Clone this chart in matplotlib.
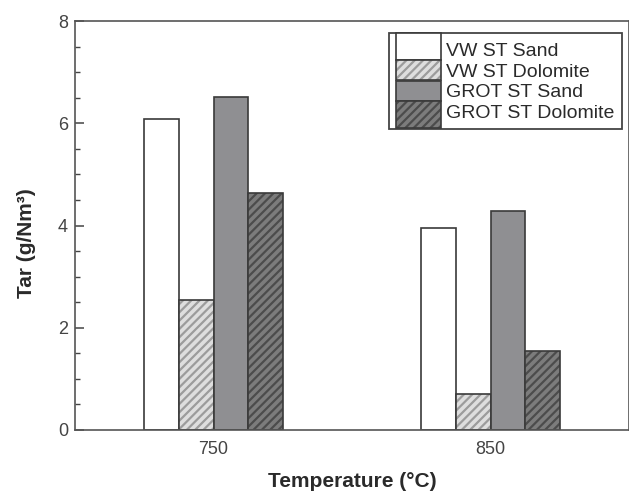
import numpy as np
import matplotlib
matplotlib.use("Agg")
import matplotlib.pyplot as plt
import matplotlib.patches as mpatches
from matplotlib.legend_handler import HandlerPatch, HandlerTuple
from matplotlib.ticker import MultipleLocator

# values (tar in g/Nm3)
temps = ["750", "850"]
labels = ["VW ST Sand", "VW ST Dolomite", "GROT ST Sand", "GROT ST Dolomite"]
vw_sand = [6.08, 3.96]
vw_dolomite = [2.55, 0.70]
grot_sand = [6.52, 4.28]
grot_dolomite = [4.63, 1.55]

plt.rcParams["font.family"] = ["Liberation Sans", "DejaVu Sans"]
plt.rcParams["hatch.linewidth"] = 1.6

edge = "#3a3a3a"
# face colour, hatch, hatch colour
styles = [
	("white", None, None),
	("#dedede", "////", "#9c9c9c"),
	("#8f8f92", None, None),
	("#7c7c7c", "////", "#4c4c4c"),
]

stretch = {}


def tall_patch(legend, orig_handle, xdescent, ydescent, width, height, fontsize):
	# let the first / last legend swatch run into the border pad, like the original
	top, bottom = stretch.get(id(orig_handle), (0, 0))
	return mpatches.Rectangle((-xdescent, -ydescent - bottom), width, height + top + bottom)


def draw_chart():
	fig = plt.figure(figsize=(6.29, 4.92), dpi=100)
	ax = fig.add_axes([75 / 629, 62 / 492, 554 / 629, 409 / 492])

	series = [vw_sand, vw_dolomite, grot_sand, grot_dolomite]
	x = np.arange(len(temps))
	w = 0.126

	handles = []
	for i, (vals, (face, hatch, hcol)) in enumerate(zip(series, styles)):
		pos = x + (i - 1.5) * w
		if hatch:
			ax.bar(pos, vals, w, color=face, edgecolor=hcol, hatch=hatch, linewidth=0)
			ax.bar(pos, vals, w, fill=False, edgecolor=edge, linewidth=1.2)
			h = (mpatches.Patch(facecolor=face, edgecolor=hcol, hatch=hatch, linewidth=0),
				 mpatches.Patch(fill=False, edgecolor=edge, linewidth=1.2))
		else:
			ax.bar(pos, vals, w, color=face, edgecolor=edge, linewidth=1.2)
			h = (mpatches.Patch(facecolor=face, edgecolor=edge, linewidth=1.2),)
		handles.append(h)

	fs = 14
	bpad = 0.36
	for p in handles[0]:
		stretch[id(p)] = (bpad * fs, 0)
	for p in handles[-1]:
		stretch[id(p)] = (0, bpad * fs)

	leg = ax.legend(handles, labels, loc="upper right", bbox_to_anchor=(0.987, 0.971),
					borderaxespad=0, fontsize=fs, frameon=True, fancybox=False,
					framealpha=1, edgecolor="#444444", borderpad=bpad, labelspacing=0,
					handlelength=2.3, handleheight=1.2, handletextpad=0.3,
					handler_map={tuple: HandlerTuple(ndivide=1, pad=0),
								 mpatches.Patch: HandlerPatch(patch_func=tall_patch)})
	leg.get_frame().set_linewidth(1.3)
	for t in leg.get_texts():
		t.set_color("#2a2a2a")

	ax.set_xlim(-0.5, 1.5)
	ax.set_ylim(0, 8)
	ax.set_xticks(x)
	ax.set_xticklabels(temps)
	ax.yaxis.set_major_locator(MultipleLocator(2))
	ax.yaxis.set_minor_locator(MultipleLocator(0.5))

	ax.tick_params(axis="y", which="major", direction="in", length=6.5, width=1.1,
				   color="#444444", labelsize=13, labelcolor="#444444", pad=5)
	ax.tick_params(axis="y", which="minor", direction="in", length=3.6, width=1.0, color="#444444")
	ax.tick_params(axis="x", length=0, labelsize=13, labelcolor="#444444", pad=8)

	for s in ax.spines.values():
		s.set_color("#555555")
		s.set_linewidth(1.2)

	ax.set_xlabel("Temperature (°C)", fontsize=15, fontweight="bold", color="#2a2a2a", labelpad=10)
	ax.set_ylabel("Tar (g/Nm³)", fontsize=15, fontweight="bold", color="#2a2a2a")
	ax.yaxis.set_label_coords(-0.07, 0.456)

	fig.savefig("out.png", dpi=100)
	plt.close(fig)


def main():
	draw_chart()


if __name__ == "__main__":
	main()
